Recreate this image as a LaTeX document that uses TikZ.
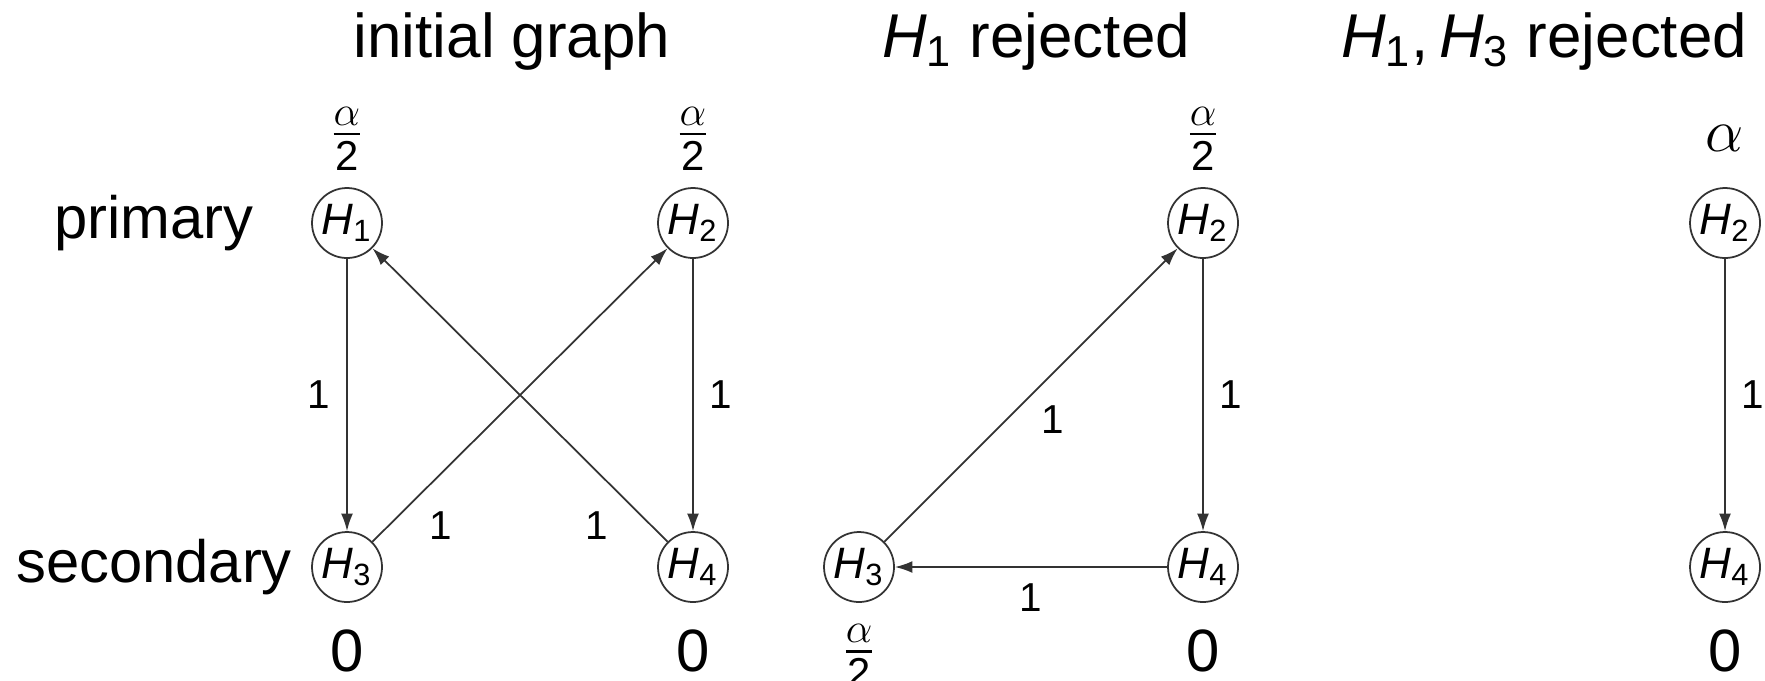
\documentclass[tikz,border=0pt]{standalone}
\usepackage{amsmath}
\usepackage{fontspec}
\setmainfont{Liberation Sans}
\usetikzlibrary{positioning}
\usetikzlibrary{arrows.meta}
\def\circleSize{0.7}
\def\hypFont{\fontsize{12.5}{14}\selectfont}
\def\labelFont{\fontsize{11.5}{13}\selectfont}
\def\mainFont{\fontsize{17}{20}\selectfont}
\def\headFont{\fontsize{17.6}{21}\selectfont}
\newcommand{\hyp}[1]{\textit{H}$_{\text{#1}}$}
\tikzset{% graph styles
  hyp/.style       = {draw=black!80, circle, line width=0.5pt, minimum size=\circleSize cm,
    inner sep=0, font=\hypFont},
  weight/.style    = {inner sep=0, font=\mainFont},
  edgelabel/.style = {inner sep=4.5pt, font=\labelFont},
  headline/.style  = {anchor=base, inner sep=0, font=\headFont},
}
\begin{document}
\begin{tikzpicture}[>={Latex[length=5pt,width=3.4pt]}, line width=0.5pt]
  \useasboundingbox (0,0) rectangle (17.65,6.8);

  % Headings
  \node[headline] (Tini) at (5.12,6.23) {initial graph};
  \node[headline] (Trej) at (10.36,6.23) {\hyp{1} rejected};
  \node[headline] (Tsec) at (15.44,6.23) {\hyp{1},\,\hyp{3} rejected};

  % Initial graph
  \node[hyp] (IH1) at (3.47,4.57) {\hyp{1}};
  \node[hyp] (IH2) at (6.93,4.57) {\hyp{2}};
  \node[hyp] (IH3) at (3.47,1.13) {\hyp{3}};
  \node[hyp] (IH4) at (6.93,1.13) {\hyp{4}};
  \node[weight] (primary) at (1.54,4.57) {primary};
  \node[weight] (secondary) at (1.54,1.13) {secondary};

  \node[weight, above=0.16cm of IH1] (wIH1) {$\frac{\alpha}{\text{2}}$};
  \node[weight, above=0.16cm of IH2] (wIH2) {$\frac{\alpha}{\text{2}}$};
  \node[weight, below=0.26cm of IH3] (wIH3) {0};
  \node[weight, below=0.26cm of IH4] (wIH4) {0};

  \draw[->, draw=black!80] (IH1) -- node[edgelabel, left] {1} (IH3);
  \draw[->, draw=black!80] (IH2) -- node[edgelabel, right] {1} (IH4);
  \draw[->, draw=black!80] (IH3) -- node[edgelabel, pos=0.055, right=0.24cm] {1} (IH2);
  \draw[->, draw=black!80] (IH4) -- node[edgelabel, pos=0.055, left=0.27cm] {1} (IH1);

  % H1 rejected
  \node[hyp] (RH2) at (12.03,4.57) {\hyp{2}};
  \node[hyp] (RH3) at (8.59,1.13) {\hyp{3}};
  \node[hyp] (RH4) at (12.03,1.13) {\hyp{4}};

  \node[weight, above=0.16cm of RH2] (wRH2) {$\frac{\alpha}{\text{2}}$};
  \node[weight, below=0.21cm of RH3] (wRH3) {$\frac{\alpha}{\text{2}}$};
  \node[weight, below=0.26cm of RH4] (wRH4) {0};

  \draw[->, draw=black!80] (RH3) -- node[edgelabel, pos=0.415, right=0.19cm] {1} (RH2);
  \draw[->, draw=black!80] (RH2) -- node[edgelabel, right] {1} (RH4);
  \draw[->, draw=black!80] (RH4) -- node[edgelabel, below] {1} (RH3);

  % H1, H3 rejected
  \node[hyp] (SH2) at (17.25,4.57) {\hyp{2}};
  \node[hyp] (SH4) at (17.25,1.13) {\hyp{4}};

  \node[weight, above=0.35cm of SH2] (wSH2) {$\alpha$};
  \node[weight, below=0.26cm of SH4] (wSH4) {0};

  \draw[->, draw=black!80] (SH2) -- node[edgelabel, right] {1} (SH4);
\end{tikzpicture}
\end{document}
